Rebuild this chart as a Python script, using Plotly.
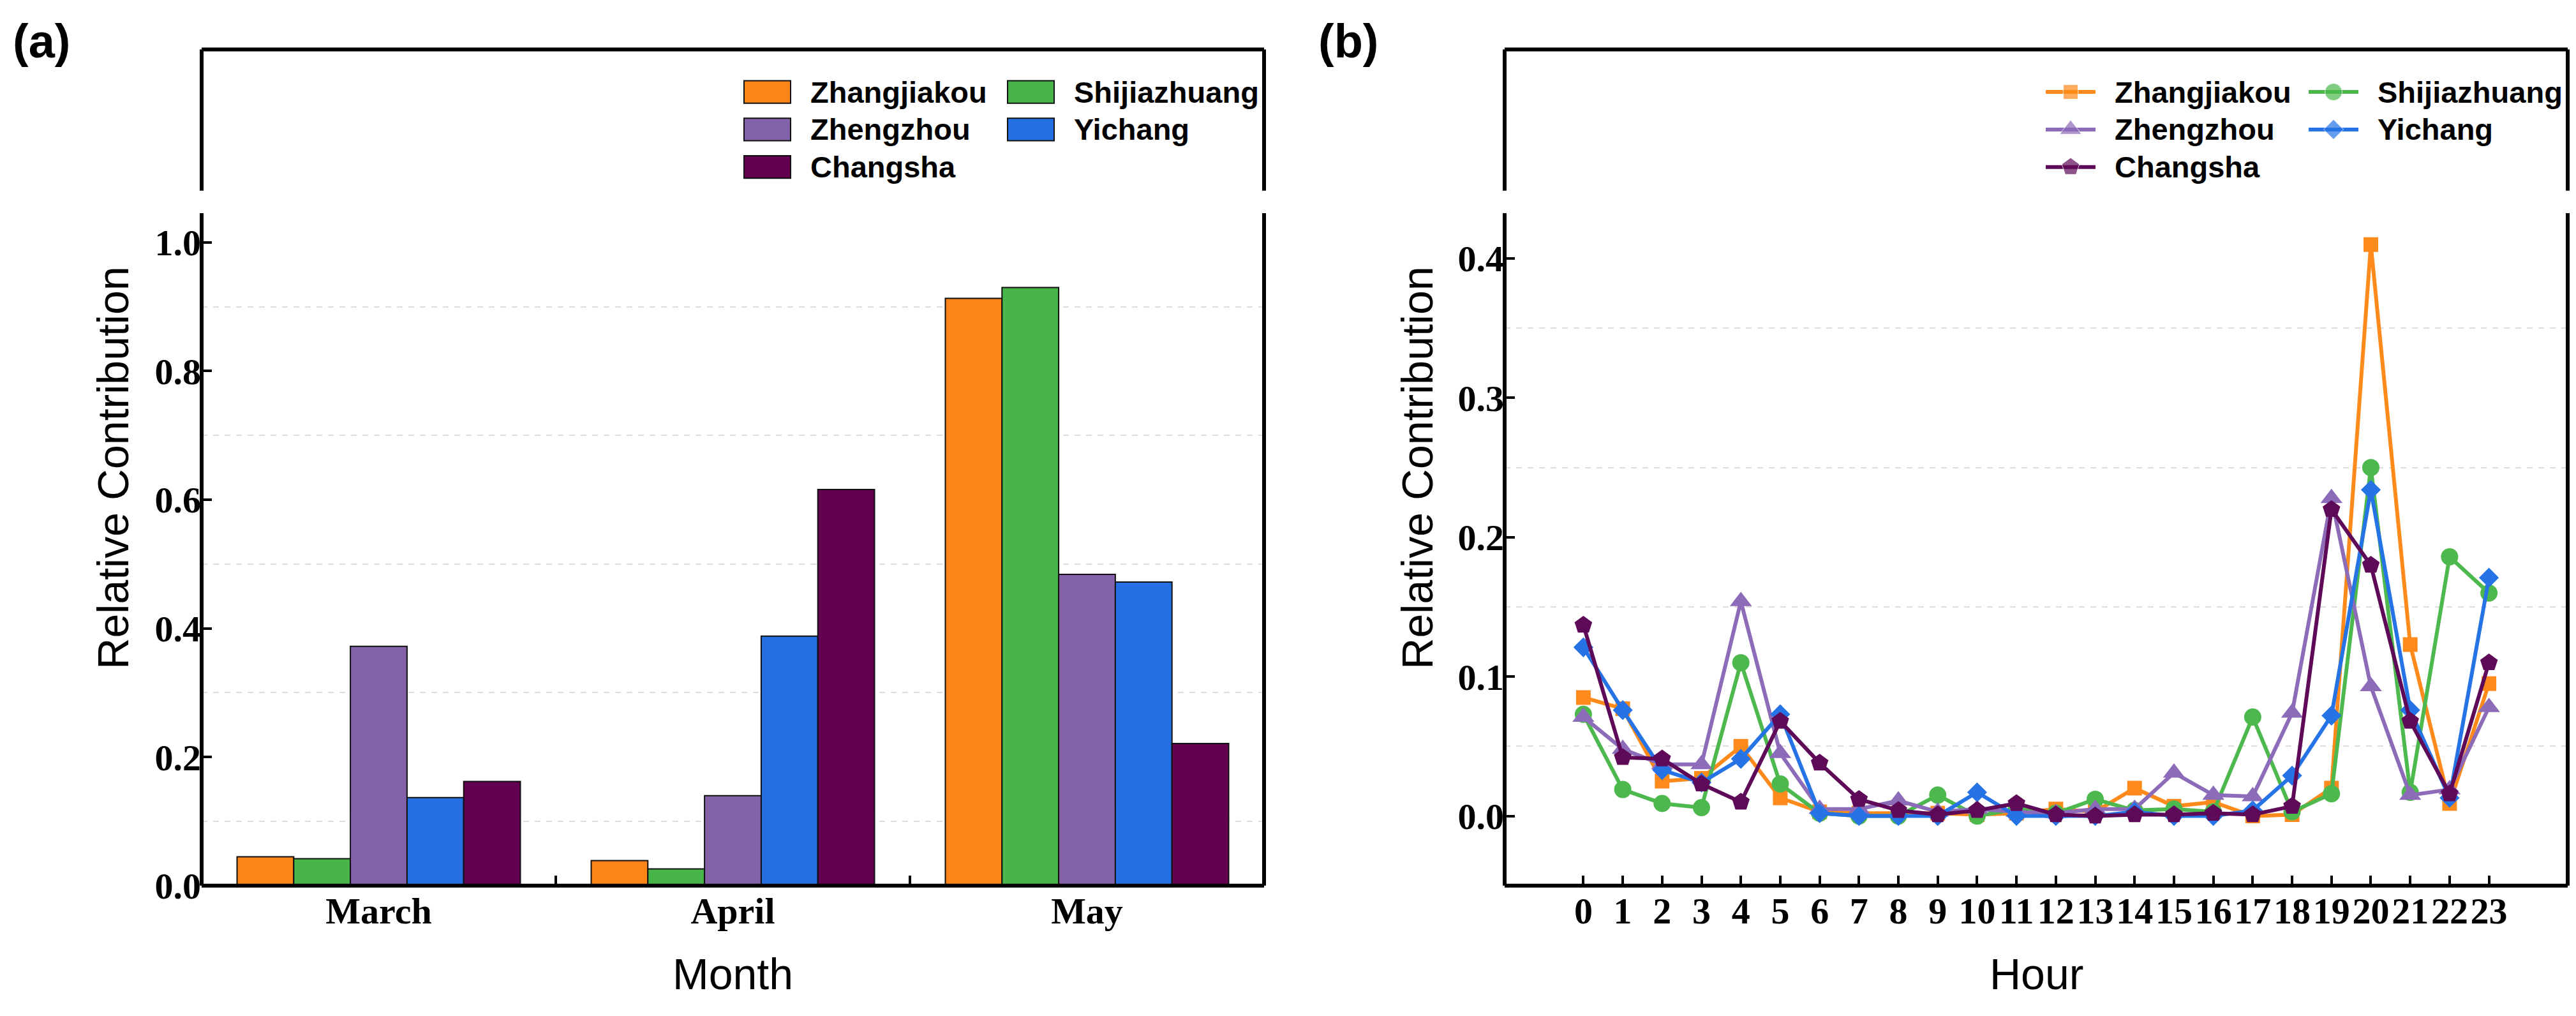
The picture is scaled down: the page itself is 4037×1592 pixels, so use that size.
import plotly.graph_objects as go

W, H = 4037, 1592

# ---- data ----
months = ["March", "April", "May"]
cities = ["Zhangjiakou", "Shijiazhuang", "Zhengzhou", "Yichang", "Changsha"]
bar_colors = ["#FB8518", "#48B54A", "#8462AA", "#2470E2", "#640050"]
line_colors = ["#FF8A1C", "#4DB84D", "#8C6BB8", "#2673E6", "#5E0A58"]
symbols = ["square", "circle", "triangle-up", "diamond", "pentagon"]
marker_sizes = [23, 27, 30, 24, 29]

monthly = {
    "Zhangjiakou": [0.045, 0.039, 0.913],
    "Shijiazhuang": [0.042, 0.026, 0.930],
    "Zhengzhou": [0.372, 0.140, 0.484],
    "Yichang": [0.137, 0.388, 0.472],
    "Changsha": [0.162, 0.616, 0.221],
}

hours = list(range(24))
hourly = {
    "Zhangjiakou": [0.085, 0.077, 0.025, 0.027, 0.050, 0.013, 0.003, 0.002, 0.002, 0.002,
                    0.001, 0.002, 0.005, 0.003, 0.020, 0.007, 0.010, 0.000, 0.001, 0.020,
                    0.410, 0.123, 0.009, 0.095],
    "Shijiazhuang": [0.073, 0.019, 0.009, 0.006, 0.110, 0.023, 0.002, 0.000, 0.000, 0.015,
                     0.000, 0.005, 0.002, 0.012, 0.004, 0.005, 0.003, 0.071, 0.003, 0.016,
                     0.250, 0.017, 0.186, 0.160],
    "Zhengzhou": [0.071, 0.048, 0.037, 0.037, 0.154, 0.045, 0.005, 0.005, 0.011, 0.003,
                  0.005, 0.003, 0.002, 0.005, 0.005, 0.031, 0.015, 0.014, 0.074, 0.228,
                  0.093, 0.015, 0.019, 0.078],
    "Yichang": [0.121, 0.076, 0.033, 0.024, 0.041, 0.073, 0.002, 0.000, 0.000, 0.000,
                0.017, 0.000, 0.000, 0.000, 0.003, 0.000, 0.000, 0.004, 0.029, 0.072,
                0.234, 0.076, 0.013, 0.171],
    "Changsha": [0.137, 0.042, 0.041, 0.023, 0.010, 0.068, 0.038, 0.012, 0.004, 0.001,
                 0.004, 0.009, 0.001, 0.000, 0.001, 0.001, 0.002, 0.001, 0.007, 0.220,
                 0.180, 0.068, 0.016, 0.110],
}

left_yticks = [0, 0.2, 0.4, 0.6, 0.8, 1.0]
right_yticks = [0, 0.1, 0.2, 0.3, 0.4]


def px(x):
    return x / W


def py(y):
    return 1 - y / H


fig = go.Figure()

for name, col in zip(cities, bar_colors):
    fig.add_trace(go.Bar(x=months, y=monthly[name], name=name, marker_color=col,
                         marker_line=dict(color="#111111", width=2),
                         xaxis="x", yaxis="y", showlegend=False))

for name, col, sym, sz in zip(cities, line_colors, symbols, marker_sizes):
    fig.add_trace(go.Scatter(x=hours, y=hourly[name], name=name, mode="lines+markers",
                             line=dict(color=col, width=6),
                             marker=dict(symbol=sym, size=sz, color=col),
                             xaxis="x2", yaxis="y2", showlegend=False))

tickfont = dict(family="Liberation Serif", size=58, color="black", weight="bold")
tickstyle = dict(ticks="inside", ticklen=16, tickwidth=4, tickcolor="black",
                 showline=False, zeroline=False, tickfont=tickfont)
y_dom = [py(1409), py(71)]

# ---- hand-built legends (swatches as shapes, line samples on a pixel overlay axis) ----
shapes = []
annotations = []
leg_font = dict(family="Liberation Sans", size=47, color="black", weight="bold")
for i, name in enumerate(cities):
    c, r = i % 2, i // 2
    yc = 139 + 60 * r
    # bar legend (panel a)
    sx = [1158, 1571][c]
    shapes.append(dict(type="rect", xref="paper", yref="paper",
                       x0=px(sx), x1=px(sx + 73), y0=py(yc + 18), y1=py(yc - 18),
                       fillcolor=bar_colors[i], line=dict(color="#111111", width=2)))
    annotations.append(dict(text=name, x=px([1260, 1673][c]), y=py(yc), xref="paper",
                            yref="paper", xanchor="left", yanchor="middle",
                            showarrow=False, font=leg_font))
    # line legend (panel b)
    lx = [3198, 3610][c]
    fig.add_trace(go.Scatter(x=[lx, lx + 39, lx + 78], y=[yc, yc, yc], mode="lines+markers",
                             line=dict(color=line_colors[i], width=6),
                             marker=dict(symbol=symbols[i], color=line_colors[i],
                                         size=[0, marker_sizes[i], 0]),
                             xaxis="x3", yaxis="y3", showlegend=False, hoverinfo="skip"))
    annotations.append(dict(text=name, x=px([3304, 3716][c]), y=py(yc), xref="paper",
                            yref="paper", xanchor="left", yanchor="middle",
                            showarrow=False, font=leg_font))

# frames with a small break in the side spines
for x0, x1 in [(308, 1973), (2350, 4016)]:
    for (a, b, c_, d) in [(x0, 71, x1, 71), (x0, 1409, x1, 1409),
                          (x0, 71, x0, 297), (x0, 333, x0, 1409),
                          (x1, 71, x1, 297), (x1, 333, x1, 1409)]:
        shapes.append(dict(type="line", xref="paper", yref="paper",
                           x0=px(a), y0=py(b), x1=px(c_), y1=py(d),
                           line=dict(color="black", width=6)))

title_font = dict(family="Liberation Sans", size=68, color="black")
for txt, x in [("(a)", 10), ("(b)", 2056)]:
    annotations.append(dict(text=txt, x=px(x), y=py(58), xref="paper", yref="paper",
                            xanchor="left", yanchor="middle", showarrow=False,
                            font=dict(family="Liberation Sans", size=74, color="black",
                                      weight="bold")))
for x in [169, 2213]:
    annotations.append(dict(text="Relative Contribution", x=px(x), y=py(741), xref="paper",
                            yref="paper", xanchor="center", yanchor="middle", textangle=-90,
                            showarrow=False, font=title_font))
for txt, x in [("Month", 1140), ("Hour", 3183)]:
    annotations.append(dict(text=txt, x=px(x), y=py(1550), xref="paper", yref="paper",
                            xanchor="center", yanchor="middle", showarrow=False,
                            font=title_font))

fig.update_layout(
    width=W, height=H,
    margin=dict(l=0, r=0, t=0, b=0),
    paper_bgcolor="white", plot_bgcolor="rgba(0,0,0,0)",
    barmode="group", bargap=0.2, bargroupgap=0,
    xaxis=dict(domain=[px(308), px(1973)], anchor="y", type="category", range=[-0.5, 2.5],
               tickson="boundaries", showgrid=False, **tickstyle),
    yaxis=dict(domain=y_dom, anchor="x", range=[0, 1.3], tickvals=left_yticks,
               ticktext=[f"{v:.1f}" for v in left_yticks], showgrid=False,
               minor=dict(tickvals=[0.1, 0.3, 0.5, 0.7, 0.9], showgrid=True,
                          griddash="dash", gridcolor="#dddddd", gridwidth=2, ticks=""),
               **tickstyle),
    xaxis2=dict(domain=[px(2350), px(4016)], anchor="y2", range=[-2, 25], tickvals=hours,
                showgrid=False, **tickstyle),
    yaxis2=dict(domain=y_dom, anchor="x2", range=[-0.05, 0.55], tickvals=right_yticks,
                ticktext=[f"{v:.1f}" for v in right_yticks], showgrid=False,
                minor=dict(tickvals=[0.05, 0.15, 0.25, 0.35], showgrid=True,
                           griddash="dash", gridcolor="#dddddd", gridwidth=2, ticks=""),
                **tickstyle),
    xaxis3=dict(domain=[0, 1], anchor="y3", range=[0, W], visible=False, fixedrange=True),
    yaxis3=dict(domain=[0, 1], anchor="x3", range=[H, 0], visible=False, fixedrange=True),
    shapes=shapes,
    annotations=annotations,
)

fig.write_html("out.html")
